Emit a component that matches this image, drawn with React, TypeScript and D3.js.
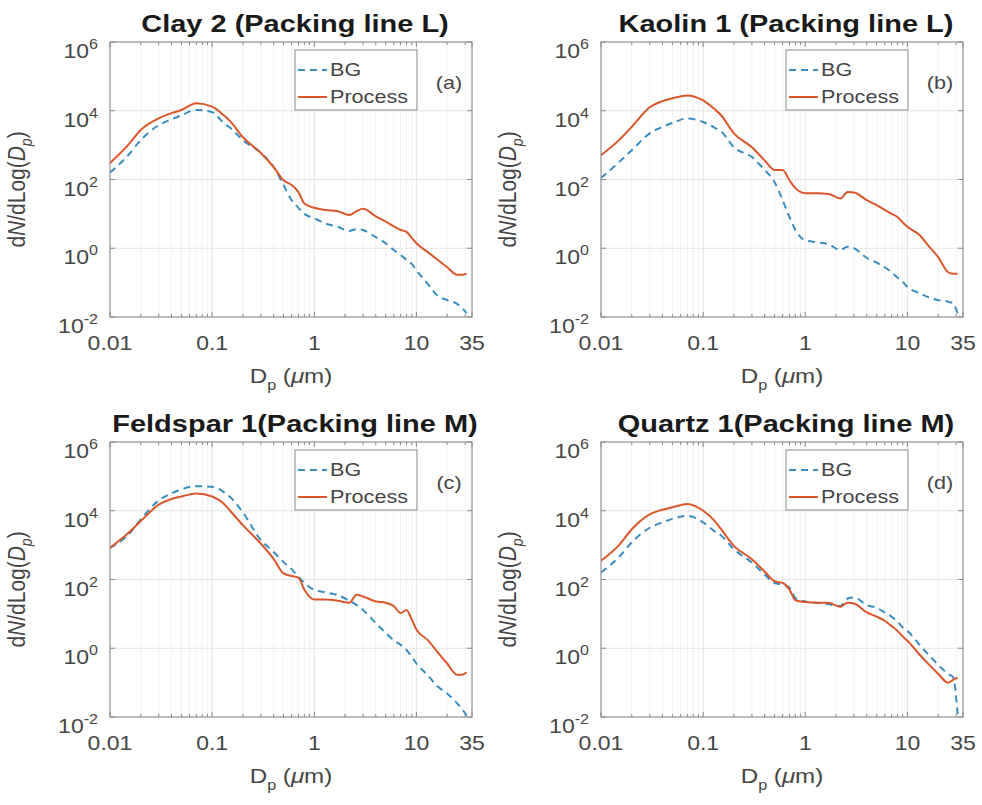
import React from 'react'
import * as d3 from 'd3'

// particle diameter grid (µm), shared by all series
const DP = [0.01, 0.015, 0.02, 0.03, 0.04, 0.05, 0.07, 0.1, 0.13, 0.15, 0.2, 0.3, 0.4, 0.5, 0.6, 0.7, 0.8, 1.0, 1.3, 1.7, 2.2, 2.6, 3.0, 4.0, 5.0, 6.0, 7.0, 8.0, 9.0, 10, 13, 16, 20, 25, 28, 31]

const clayBG = [160, 500, 1400, 3800, 5600, 7400, 10500, 9100, 4400, 3200, 1400, 590, 230, 69, 25, 15, 10, 7.4, 5.2, 4.2, 3.2, 3.6, 3.4, 2.1, 1.4, 0.89, 0.63, 0.46, 0.35, 0.23, 0.089, 0.042, 0.031, 0.024, 0.018, 0.013]
const clayProc = [300, 1000, 2750, 6000, 8500, 10500, 16600, 13200, 7400, 5000, 1700, 590, 230, 95, 69, 43, 20, 15, 13, 12, 9.3, 12, 14, 8.5, 6.0, 4.3, 3.4, 3.0, 2.0, 1.4, 0.76, 0.47, 0.28, 0.17, 0.17, 0.18]

const kaolinBG = [110, 320, 710, 2200, 3400, 4400, 6000, 4700, 3200, 2500, 870, 450, 190, 85, 25, 8.1, 3.4, 1.7, 1.5, 1.3, 0.89, 1.1, 1.0, 0.52, 0.38, 0.28, 0.2, 0.14, 0.105, 0.074, 0.05, 0.038, 0.031, 0.028, 0.025, 0.0126]
const kaolinProc = [510, 1400, 3400, 12600, 19000, 23000, 28000, 20000, 11000, 7400, 2200, 870, 360, 190, 190, 95, 56, 40, 40, 38, 28, 43, 42, 25, 18, 13, 10, 8.1, 5.6, 4.2, 2.5, 1.2, 0.55, 0.2, 0.18, 0.18]

const feldsparBG = [830, 1950, 5600, 20000, 32000, 42000, 52000, 50000, 35000, 25000, 8900, 1400, 630, 320, 200, 120, 80, 50, 42, 35, 24, 18, 13, 5.4, 2.8, 1.7, 1.26, 0.89, 0.56, 0.36, 0.16, 0.079, 0.048, 0.025, 0.017, 0.011]
const feldsparProc = [830, 2200, 5000, 15000, 22000, 26000, 32000, 26000, 16000, 10000, 3800, 1100, 400, 150, 126, 112, 50, 26, 26, 24, 21, 36, 32, 23, 21, 17, 10.5, 13, 6.8, 3.5, 1.7, 0.79, 0.36, 0.17, 0.17, 0.2]

const quartzBG = [160, 450, 1200, 3200, 4600, 5800, 7100, 4600, 2500, 1900, 760, 310, 140, 79, 71, 58, 29, 23, 21, 19, 17, 28, 30, 18, 15, 11, 8.3, 6.0, 4.0, 3.2, 1.3, 0.66, 0.33, 0.18, 0.145, 0.012]
const quartzProc = [350, 1000, 2900, 7900, 10700, 12600, 15800, 10000, 5000, 2900, 950, 390, 170, 89, 79, 51, 25, 22, 21, 21, 16, 21, 20, 11, 8.3, 6.3, 4.4, 3.2, 2.2, 1.66, 0.68, 0.35, 0.18, 0.1, 0.12, 0.14]

const X_TICKS = [0.01, 0.1, 1, 10, 35]
const X_TICK_LABELS = ['0.01', '0.1', '1', '10', '35']
const Y_EXPONENTS = [-2, 0, 2, 4, 6]

const TITLES = ['Clay 2 (Packing line L)', 'Kaolin 1 (Packing line L)', 'Feldspar 1(Packing line M)', 'Quartz 1(Packing line M)']
const TAGS = ['(a)', '(b)', '(c)', '(d)']
const BG_SERIES = [clayBG, kaolinBG, feldsparBG, quartzBG]
const PROC_SERIES = [clayProc, kaolinProc, feldsparProc, quartzProc]

const BG_COLOR = '#3a8dbf'
const PROC_COLOR = '#d9572b'
const FONT = '"Liberation Sans", Arial, Helvetica, sans-serif'
const INK = '#464646'

const W = 362
const H = 275
const COL_X = [110, 601]
const ROW_Y = [42, 442]

const xs = d3.scaleLog().domain([0.01, 35]).range([0, W])
const ys = d3.scaleLog().domain([0.01, 1e6]).range([H, 0])

const line = d3.line<number>()
  .x((_, i) => xs(DP[i]))
  .y((d) => ys(d))
  .curve(d3.curveMonotoneX)

// MATLAB-ish minor ticks: 2..9 in each decade
const minorX: number[] = []
for (let e = -2; e <= 1; e++) {
  for (let m = 2; m <= 9; m++) {
    const v = m * Math.pow(10, e)
    if (v < 35) minorX.push(v)
  }
}

function T({ x, y, sx = 1.15, children, ...rest }: any) {
  return (
    <text transform={`translate(${x},${y}) scale(${sx},1)`} fontFamily={FONT} {...rest}>
      {children}
    </text>
  )
}

function Panel({ idx }: { idx: number }) {
  const left = COL_X[idx % 2]
  const top = ROW_Y[Math.floor(idx / 2)]
  const clipId = `clip-${idx}`
  return (
    <g transform={`translate(${left},${top})`}>
      <defs>
        <clipPath id={clipId}>
          <rect x={0} y={0} width={W} height={H} />
        </clipPath>
      </defs>
      <rect x={0} y={0} width={W} height={H} fill="#fff" />

      {/* grid */}
      {minorX.map((v) => (
        <line key={'mg' + v} x1={xs(v)} x2={xs(v)} y1={0} y2={H} stroke="#f2f2f2" strokeWidth={1} />
      ))}
      {X_TICKS.map((v) => (
        <line key={'gx' + v} x1={xs(v)} x2={xs(v)} y1={0} y2={H} stroke="#e4e4e4" strokeWidth={1} />
      ))}
      {Y_EXPONENTS.map((e) => (
        <line key={'gy' + e} x1={0} x2={W} y1={ys(Math.pow(10, e))} y2={ys(Math.pow(10, e))} stroke="#e4e4e4" strokeWidth={1} />
      ))}

      {/* ticks */}
      {minorX.map((v) => (
        <g key={'mt' + v} stroke="#8a8a8a" strokeWidth={1}>
          <line x1={xs(v)} x2={xs(v)} y1={H} y2={H - 3} />
          <line x1={xs(v)} x2={xs(v)} y1={0} y2={3} />
        </g>
      ))}
      {X_TICKS.map((v) => (
        <g key={'t' + v} stroke="#8a8a8a" strokeWidth={1}>
          <line x1={xs(v)} x2={xs(v)} y1={H} y2={H - 5} />
          <line x1={xs(v)} x2={xs(v)} y1={0} y2={5} />
        </g>
      ))}
      {Y_EXPONENTS.map((e) => (
        <g key={'yt' + e} stroke="#8a8a8a" strokeWidth={1}>
          <line x1={0} x2={5} y1={ys(Math.pow(10, e))} y2={ys(Math.pow(10, e))} />
          <line x1={W} x2={W - 5} y1={ys(Math.pow(10, e))} y2={ys(Math.pow(10, e))} />
        </g>
      ))}

      {/* data */}
      <g clipPath={`url(#${clipId})`} fill="none" strokeWidth={2} strokeLinejoin="round">
        <path d={line(BG_SERIES[idx]) || ''} stroke={BG_COLOR} strokeDasharray="7,5" />
        <path d={line(PROC_SERIES[idx]) || ''} stroke={PROC_COLOR} />
      </g>

      <rect x={0} y={0} width={W} height={H} fill="none" stroke="#8a8a8a" strokeWidth={1} />

      {/* tick labels */}
      {X_TICKS.map((v, i) => (
        <T key={'xl' + v} x={xs(v)} y={H + 33} textAnchor="middle" fontSize={20} fill={INK}>
          {X_TICK_LABELS[i]}
        </T>
      ))}
      {Y_EXPONENTS.map((e) => (
        <T key={'yl' + e} x={-12} y={ys(Math.pow(10, e)) + 16} textAnchor="end" fontSize={20} fill={INK}>
          10<tspan dy={-9} fontSize={14}>{e}</tspan>
        </T>
      ))}

      {/* axis labels */}
      <T x={W / 2} y={H + 66} textAnchor="middle" fontSize={21} fill={INK}>
        D<tspan fontSize={14} dy={7}>p</tspan>
        <tspan dy={-7}> (</tspan>
        <tspan fontStyle="italic">μ</tspan>m)
      </T>
      <text
        transform={`translate(-85,${H / 2 + 10}) rotate(-90) scale(1,1.15)`}
        textAnchor="middle"
        fontFamily={FONT}
        fontSize={21}
        fill={INK}
      >
        d<tspan fontStyle="italic">N</tspan>/dLog(<tspan fontStyle="italic">D</tspan>
        <tspan fontStyle="italic" fontSize={14} dy={6}>p</tspan>
        <tspan dy={-6}>)</tspan>
      </text>

      {/* title */}
      <T x={W / 2 + 4} y={-10} textAnchor="middle" fontSize={23} fontWeight="bold" sx={1.26} fill="#1a1a1a">
        {TITLES[idx]}
      </T>

      {/* legend */}
      <rect x={185} y={8} width={122} height={60} fill="#fff" stroke="#8a8a8a" strokeWidth={1} />
      <line x1={188} x2={217} y1={28} y2={28} stroke={BG_COLOR} strokeWidth={2} strokeDasharray="7,5" />
      <line x1={188} x2={217} y1={55} y2={55} stroke={PROC_COLOR} strokeWidth={2} />
      <T x={220} y={34} fontSize={18} sx={1.2} fill={INK}>BG</T>
      <T x={220} y={61} fontSize={18} sx={1.2} fill={INK}>Process</T>
      <T x={339} y={47} textAnchor="middle" fontSize={18} sx={1.2} fill={INK}>{TAGS[idx]}</T>
    </g>
  )
}

export default function App() {
  return (
    <svg
      width={982}
      height={805}
      style={{ position: 'absolute', left: 0, top: 0, display: 'block', background: '#fff' }}
    >
      <rect width={982} height={805} fill="#fff" />
      {[0, 1, 2, 3].map((i) => (
        <Panel key={i} idx={i} />
      ))}
    </svg>
  )
}
